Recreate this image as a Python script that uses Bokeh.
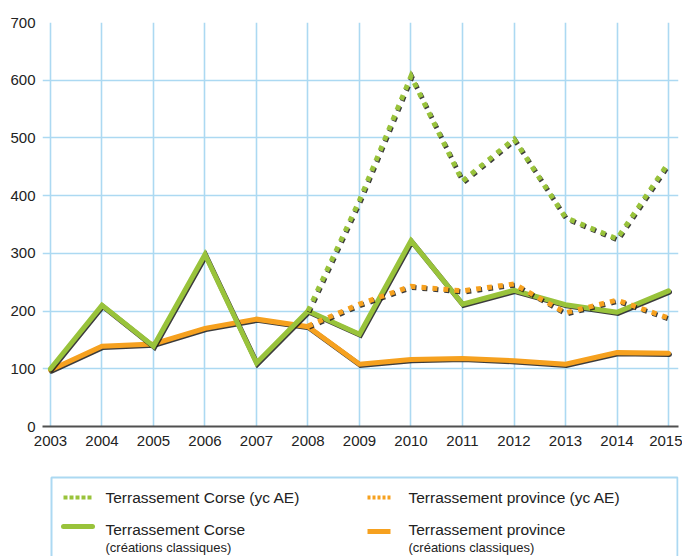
import numpy as np
from bokeh.plotting import figure
from bokeh.models import Range1d, ColumnDataSource, FixedTicker
from bokeh.layouts import column
from bokeh.embed import file_html
from bokeh.resources import INLINE
from bokeh.core.properties import value

# ---------------- data ----------------
years = [2003, 2004, 2005, 2006, 2007, 2008, 2009, 2010, 2011, 2012, 2013, 2014, 2015]
corse_classic = [100, 210, 139, 298, 110, 200, 160, 322, 212, 236, 211, 198, 235]
province_classic = [98, 139, 143, 170, 186, 173, 108, 116, 118, 114, 108, 128, 127]

years_ae = [2008, 2009, 2010, 2011, 2012, 2013, 2014, 2015]
corse_ae = [200, 392, 607, 425, 498, 362, 325, 457]
province_ae = [174, 212, 243, 235, 247, 197, 219, 188]

y_ticks = [0, 100, 200, 300, 400, 500, 600, 700]

legend_labels = ["Terrassement Corse (yc AE)", "Terrassement province (yc AE)",
                 "Terrassement Corse", "Terrassement province"]
legend_sub = "(créations classiques)"

GREEN = "#99c33b"
ORANGE = "#f6a11f"
GRID = "#acd9f2"
FONT = "Liberation Sans"

# ---------------- main chart ----------------
W, H = 682, 462
FL, FR, FT, FB = 42, 4, 22, 36
x0, x1 = 2002.845, 2015.194
y0, y1 = 0, 700
fw = W - FL - FR
fh = H - FT - FB

p = figure(width=W, height=H, x_range=Range1d(x0, x1), y_range=Range1d(y0, y1),
           output_backend="svg", toolbar_location=None,
           min_border_left=FL, min_border_right=FR, min_border_top=FT, min_border_bottom=FB)
p.outline_line_color = None
p.background_fill_color = "white"

p.xaxis.ticker = FixedTicker(ticks=years)
p.yaxis.ticker = FixedTicker(ticks=y_ticks)
p.xgrid.ticker = FixedTicker(ticks=years)
p.ygrid.ticker = FixedTicker(ticks=y_ticks)
for g in (p.xgrid, p.ygrid):
    g.grid_line_color = GRID
    g.grid_line_width = 1.6

p.yaxis.axis_line_color = None
p.yaxis.major_label_standoff = 7
p.xaxis.axis_line_color = "#505050"
p.xaxis.axis_line_width = 2
p.xaxis.major_label_standoff = 9
for ax in (p.xaxis, p.yaxis):
    ax.major_tick_line_color = None
    ax.minor_tick_line_color = None
    ax.major_tick_out = 0
    ax.major_tick_in = 0
    ax.minor_tick_out = 0
    ax.minor_tick_in = 0
    ax.major_label_text_font = FONT
    ax.major_label_text_font_size = "15px"
    ax.major_label_text_color = "#222222"

# pixel -> data offsets for the drop shadow
dx = 1.0 * (x1 - x0) / fw
dy = 1.2 * (y1 - y0) / fh


def shadowed(xs, ys, color, dash=None, width=5):
    xs = np.asarray(xs, dtype=float)
    ys = np.asarray(ys, dtype=float)
    kw = dict(line_width=width, line_join="miter")
    if dash:
        kw.update(line_dash=dash, line_cap="butt")
    else:
        kw.update(line_cap="round")
    p.line(xs + dx, ys - dy, line_color="#1a1a1a", line_alpha=0.85, **kw)
    p.line(xs, ys, line_color=color, **kw)


shadowed(years, province_classic, ORANGE)
shadowed(years, corse_classic, GREEN)
shadowed(years_ae, corse_ae, GREEN, dash="5 6")
shadowed(years_ae, province_ae, ORANGE, dash="5 6")

# ---------------- legend panel (coordinates in page pixels) ----------------
LH = 94
top_px = H
lf = figure(width=W, height=LH, x_range=Range1d(FL, W - FR), y_range=Range1d(top_px + LH, top_px),
            x_axis_type=None, y_axis_type=None,
            output_backend="svg", toolbar_location=None,
            min_border_left=FL, min_border_right=FR, min_border_top=0, min_border_bottom=0)
lf.grid.visible = False
lf.outline_line_color = None

lf.quad(left=51, right=677, top=477, bottom=top_px + LH + 10, fill_color=None,
        line_color=GRID, line_width=2)

# samples
lf.line([63, 92], [497, 497], line_color=GREEN, line_width=4, line_dash="4 2", line_cap="butt")
lf.line([367, 390], [497, 497], line_color=ORANGE, line_width=4, line_dash="3 2", line_cap="butt")
lf.line([63, 92], [526, 526], line_color=GREEN, line_width=5, line_cap="round")
lf.line([367, 390], [531, 531], line_color=ORANGE, line_width=5, line_cap="butt")

src_main = ColumnDataSource(dict(x=[105, 408, 105, 408], y=[497, 497, 529, 529], t=legend_labels))
lf.text(x="x", y="y", text="t", source=src_main, text_font=value(FONT),
        text_font_size="15.5px", text_color="#222222", text_baseline="middle")
src_sub = ColumnDataSource(dict(x=[105, 408], y=[547, 547], t=[legend_sub, legend_sub]))
lf.text(x="x", y="y", text="t", source=src_sub, text_font=value(FONT),
        text_font_size="13px", text_color="#222222", text_baseline="middle")

layout = column(p, lf, spacing=0)
open("out.html", "w").write(file_html(layout, INLINE))
